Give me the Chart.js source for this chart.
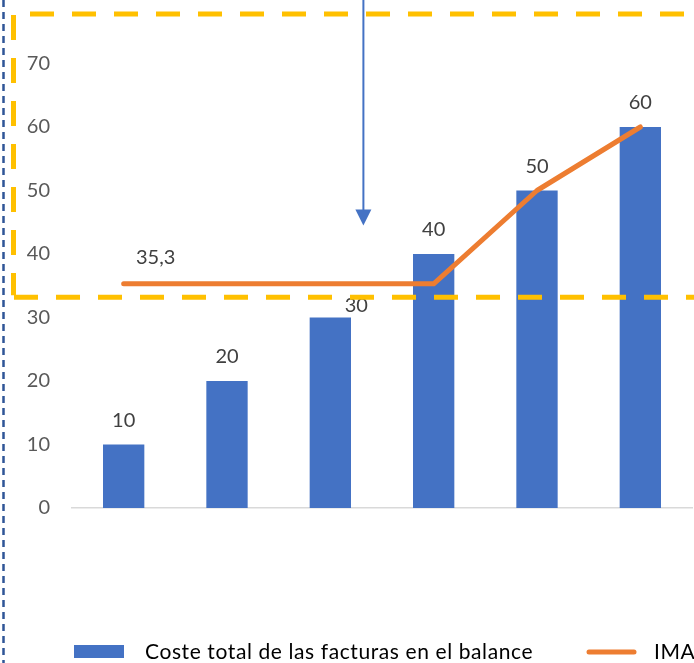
<!DOCTYPE html>
<html>
<head>
<meta charset="utf-8">
<script src="https://cdn.jsdelivr.net/npm/chart.js@4/dist/chart.umd.min.js"></script>
<style>
  body { margin: 0; background: #fff; }
  #wrap { width: 694px; height: 663px; position: relative; }
</style>
</head>
<body>
<div id="wrap"><canvas id="chart" width="694" height="663"></canvas></div>
<script>
// data
const categories = ['1', '2', '3', '4', '5', '6'];
const costeTotal = [10, 20, 30, 40, 50, 60];
const ima = [35.3, 35.3, 35.3, 35.3, 50, 60];
const yMax = 80;
const yStep = 10;

// which line points get a label (only the first one in the reference)
const imaLabelShown = [true, false, false, false, false, false];
// yellow guide levels (axis values) and arrow position (category index)
const guideLevels = [77.8, 33.2];
const arrowAt = 2.32;

const FONT = 'Lato, "Open Sans", sans-serif';
const BLUE = '#4472C4';
const ORANGE = '#ED7D31';
const YELLOW = '#FFC000';

const fmt = v => String(v).replace('.', ',');

// bar value labels + the single IMA label
const labelsPlugin = {
    id: 'labels',
    afterDatasetsDraw(chart) {
        const ctx = chart.ctx;
        ctx.save();
        ctx.font = '20px ' + FONT;
        ctx.fillStyle = '#404040';
        ctx.textAlign = 'center';
        ctx.textBaseline = 'middle';
        const bars = chart.getDatasetMeta(1);
        bars.data.forEach((bar, i) => {
            let x = bar.x, y = bar.y - 24;
            if (i === 2) { x += 26; y = bar.y - 12; } // moved away from the IMA line
            ctx.fillText(fmt(costeTotal[i]), x, y);
        });
        const line = chart.getDatasetMeta(0);
        line.data.forEach((pt, i) => {
            if (!imaLabelShown[i]) return;
            ctx.fillText(fmt(ima[i]), pt.x + 32, pt.y - 26);
        });
        ctx.restore();
    }
};

// dashed guides, the arrow and the legend
const overlayPlugin = {
    id: 'overlay',
    afterDraw(chart) {
        const ctx = chart.ctx;
        const x = chart.scales.x, y = chart.scales.y;
        const W = chart.width, H = chart.height;
        ctx.save();

        // blue dashed border on the left
        ctx.strokeStyle = '#2F5597';
        ctx.lineWidth = 2.5;
        ctx.setLineDash([7, 5]);
        ctx.beginPath();
        ctx.moveTo(3.5, 0);
        ctx.lineTo(3.5, H);
        ctx.stroke();

        // yellow dashed box
        const yTop = y.getPixelForValue(guideLevels[0]);
        const yBot = y.getPixelForValue(guideLevels[1]);
        ctx.strokeStyle = YELLOW;
        ctx.lineWidth = 5;
        ctx.setLineDash([24, 18]);
        ctx.beginPath();
        ctx.moveTo(30, yTop); ctx.lineTo(W, yTop);
        ctx.moveTo(14, yBot); ctx.lineTo(W, yBot);
        ctx.stroke();
        ctx.setLineDash([25, 18]);
        ctx.beginPath();
        ctx.moveTo(13.5, yTop + 1); ctx.lineTo(13.5, yBot - 2);
        ctx.stroke();

        // arrow
        const ax = x.getPixelForValue(arrowAt);
        const tip = y.getPixelForValue(44.5);
        ctx.setLineDash([]);
        ctx.strokeStyle = BLUE;
        ctx.fillStyle = BLUE;
        ctx.lineWidth = 2;
        ctx.beginPath();
        ctx.moveTo(ax, 0); ctx.lineTo(ax, tip - 12);
        ctx.stroke();
        ctx.beginPath();
        ctx.moveTo(ax - 8, tip - 16);
        ctx.lineTo(ax + 8, tip - 16);
        ctx.lineTo(ax, tip);
        ctx.closePath();
        ctx.fill();

        // legend
        const ly = 652;
        const ds = chart.data.datasets;
        ctx.font = '21px ' + FONT;
        ctx.letterSpacing = '0.6px';
        ctx.textBaseline = 'middle';
        ctx.textAlign = 'left';
        ctx.fillStyle = BLUE;
        ctx.fillRect(74, ly - 7, 50, 13);
        ctx.fillStyle = '#000';
        ctx.fillText(ds[1].label, 145, ly);
        ctx.strokeStyle = ORANGE;
        ctx.lineWidth = 5;
        ctx.lineCap = 'round';
        ctx.beginPath();
        ctx.moveTo(589, ly); ctx.lineTo(634, ly);
        ctx.stroke();
        ctx.fillText(ds[0].label, 654, ly);
        ctx.restore();
    }
};

new Chart(document.getElementById('chart'), {
    data: {
        labels: categories,
        datasets: [{
            type: 'line',
            label: 'IMA',
            data: ima,
            borderColor: ORANGE,
            backgroundColor: ORANGE,
            borderWidth: 5,
            borderCapStyle: 'round',
            borderJoinStyle: 'round',
            pointRadius: 0,
            tension: 0,
            order: 1
        }, {
            type: 'bar',
            label: 'Coste total de las facturas en el balance',
            data: costeTotal,
            backgroundColor: BLUE,
            categoryPercentage: 1,
            barPercentage: 0.4,
            order: 2
        }]
    },
    options: {
        responsive: false,
        animation: false,
        layout: { padding: { top: 0, right: 2, bottom: 155, left: 0 } },
        plugins: {
            legend: { display: false },
            tooltip: { enabled: false }
        },
        scales: {
            x: {
                afterFit: s => { s.height = 0; s.paddingLeft = 0; s.paddingRight = 0; },
                ticks: { display: false },
                grid: { display: false },
                border: { color: '#D9D9D9', width: 1.5 }
            },
            y: {
                min: 0,
                max: yMax,
                afterFit: s => { s.width = 72; s.paddingTop = 0; s.paddingBottom = 0; },
                ticks: {
                    stepSize: yStep,
                    padding: 14,
                    color: '#595959',
                    font: { family: FONT, size: 20 },
                    callback: v => (v === yMax ? '' : v)
                },
                grid: { display: false },
                border: { display: false }
            }
        }
    },
    plugins: [labelsPlugin, overlayPlugin]
});
</script>
</body>
</html>
